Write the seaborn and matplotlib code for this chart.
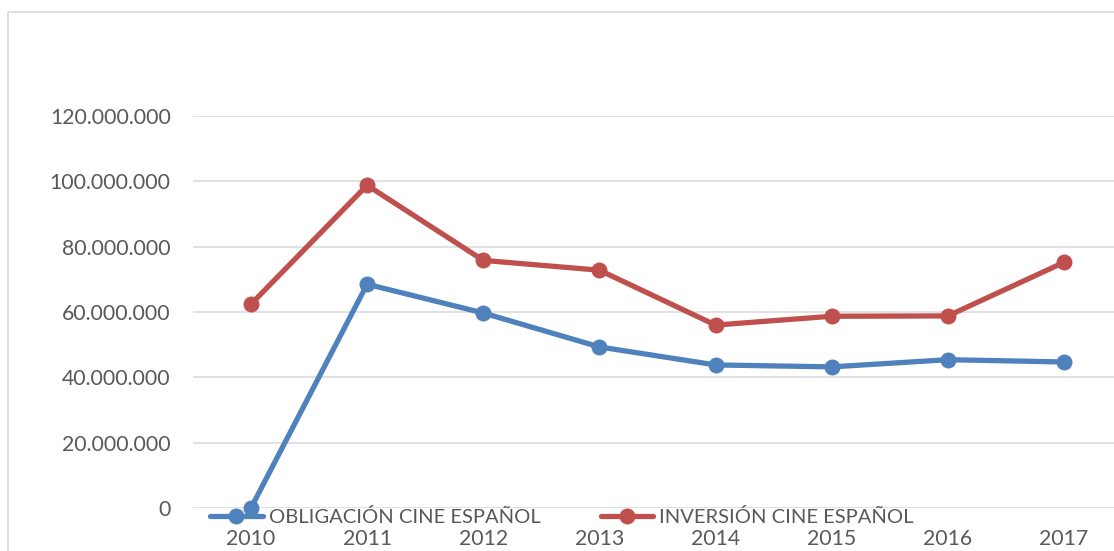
import matplotlib
matplotlib.use("Agg")
import matplotlib.pyplot as plt
import matplotlib.ticker as mticker
from matplotlib.patches import Rectangle
import pandas as pd
import seaborn as sns

years = ["2010", "2011", "2012", "2013", "2014", "2015", "2016", "2017"]
obligacion = [0, 68500000, 59700000, 49300000, 43800000, 43200000, 45400000, 44700000]
inversion = [62400000, 98800000, 75800000, 72800000, 56000000, 58700000, 58800000, 75200000]
series_names = ["OBLIGACIÓN CINE ESPAÑOL", "INVERSIÓN CINE ESPAÑOL"]
colors = ["#4F81BD", "#C0504D"]

df = pd.DataFrame({
    "year": years * 2,
    "value": obligacion + inversion,
    "serie": [series_names[0]] * len(years) + [series_names[1]] * len(years),
})

sns.set_style("white")
plt.rcParams["font.family"] = ["Lato", "DejaVu Sans"]

fig = plt.figure(figsize=(11.14, 5.51), dpi=100)
ax = fig.add_axes([192.9 / 1114, 43 / 551, 929.2 / 1114, 392 / 551])

sns.lineplot(data=df, x="year", y="value", hue="serie", palette=colors,
             marker="o", markersize=11.5, markeredgewidth=0, linewidth=3.8,
             sort=False, ax=ax, clip_on=False)

ax.set_xlim(-0.5, 7.5)
ax.set_ylim(0, 120000000)
ax.set_yticks(range(0, 120000001, 20000000))
ax.yaxis.set_major_formatter(mticker.FuncFormatter(lambda v, p: f"{int(v):,}".replace(",", ".")))
ax.grid(axis="y", color="#D9D9D9", linewidth=1.1)
ax.set_axisbelow(True)
for s in ax.spines.values():
    s.set_visible(False)
ax.tick_params(axis="y", length=0, pad=16, labelsize=15.3, labelcolor="#595959")
ax.tick_params(axis="x", length=0, pad=15, labelsize=15.3, labelcolor="#595959")
ax.set_xlabel("")
ax.set_ylabel("")

ax.legend_.remove()
handles, labels = ax.get_legend_handles_labels()
fig.legend(handles, labels, loc="center", bbox_to_anchor=(562 / 1114, 1 - 517 / 551),
           ncol=2, frameon=False, fontsize=14.5, handlelength=2.6, handletextpad=0.3,
           columnspacing=3.0, labelcolor="#595959")

fig.patches.append(Rectangle((8 / 1114, -0.05), 1.2, 1.05 - 12 / 551, transform=fig.transFigure,
                             fill=False, edgecolor="#D9D9D9", linewidth=1.2))

fig.savefig("out.png", dpi=100)
